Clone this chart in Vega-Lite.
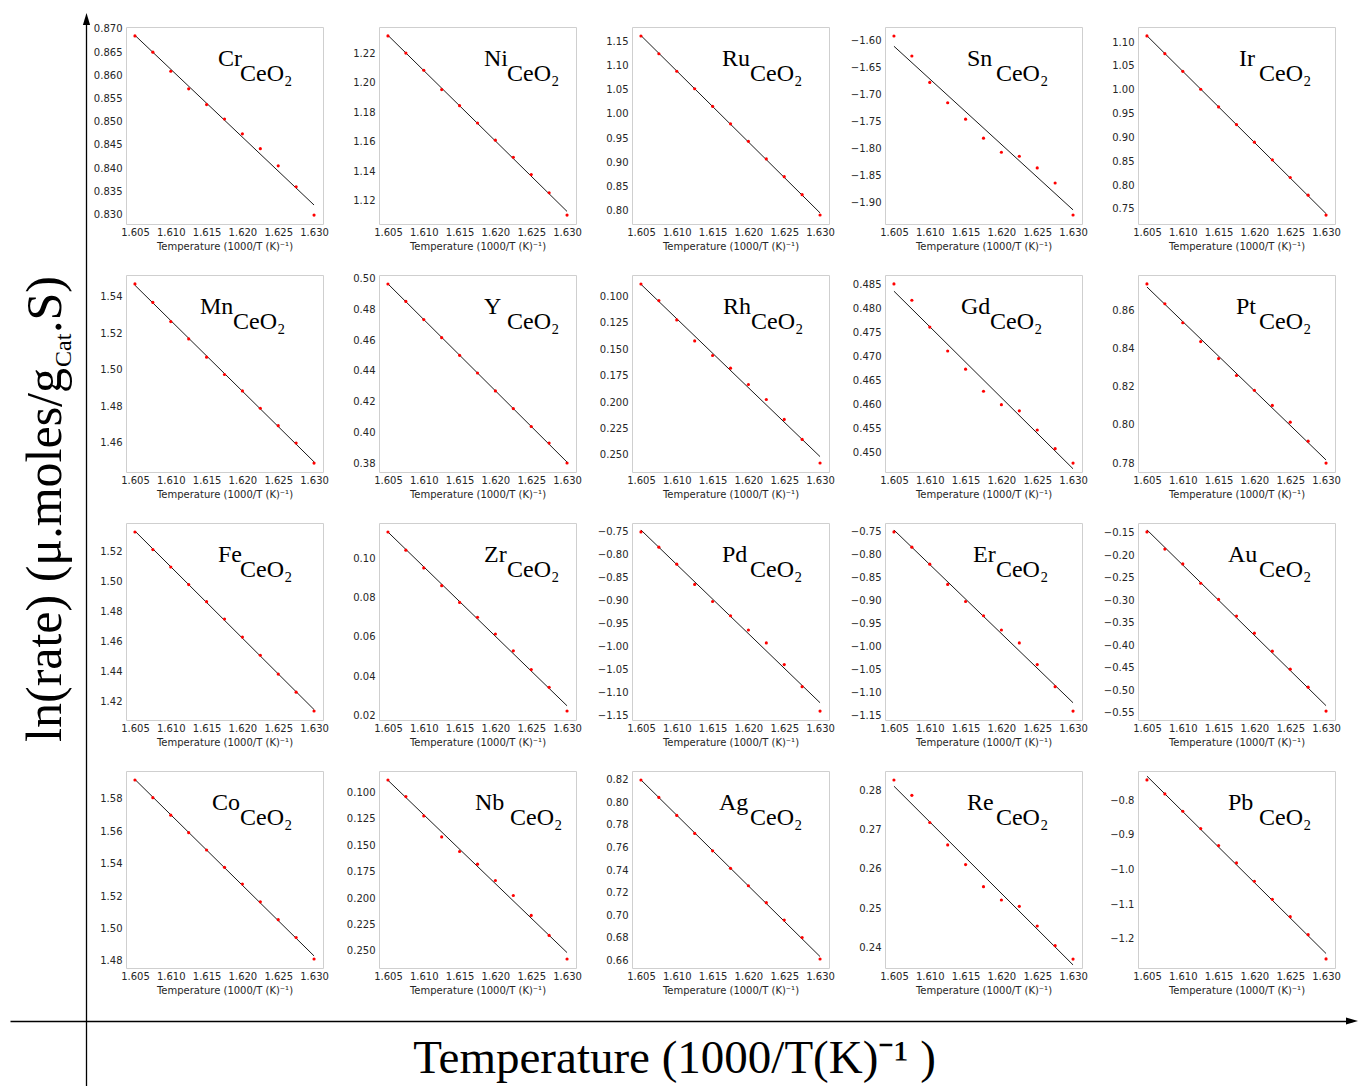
{
"$schema":"https://vega.github.io/schema/vega-lite/v6.json",
"padding":{"left":20,"top":13,"right":0,"bottom":0},
"background":"white",
"config":{
 "view":{"stroke":"#cfcfcf","strokeWidth":1},
 "axis":{"domain":false,"ticks":false,"tickSize":0,"grid":false,"labelFont":"DejaVu Sans","labelFontSize":10,"labelColor":"#262626","labelPadding":3,"labelFlush":false,"labelOverlap":false,"titleFont":"DejaVu Sans","titleFontSize":10,"titleFontWeight":"normal","titleColor":"#262626","titlePadding":4},
 "axisY":{"labelPadding":4},
 "style":{
  "lbl":{"align":"left","baseline":"alphabetic","font":"Liberation Serif","fontSize":24,"fill":"black"},
  "big":{"font":"Liberation Serif","fill":"black","angle":270,"baseline":"alphabetic"}
 }
},
"datasets":{"pts":[
{"metal":"Cr","x":1.605,"y":0.8685},{"metal":"Cr","x":1.6075,"y":0.8650},{"metal":"Cr","x":1.61,"y":0.8609},{"metal":"Cr","x":1.6125,"y":0.8571},{"metal":"Cr","x":1.615,"y":0.8537},{"metal":"Cr","x":1.6175,"y":0.8506},{"metal":"Cr","x":1.62,"y":0.8474},{"metal":"Cr","x":1.6225,"y":0.8442},{"metal":"Cr","x":1.625,"y":0.8405},{"metal":"Cr","x":1.6275,"y":0.8360},{"metal":"Cr","x":1.63,"y":0.8299},
{"metal":"Ni","x":1.605,"y":1.2316},{"metal":"Ni","x":1.6075,"y":1.2200},{"metal":"Ni","x":1.61,"y":1.2084},{"metal":"Ni","x":1.6125,"y":1.1953},{"metal":"Ni","x":1.615,"y":1.1844},{"metal":"Ni","x":1.6175,"y":1.1727},{"metal":"Ni","x":1.62,"y":1.1611},{"metal":"Ni","x":1.6225,"y":1.1495},{"metal":"Ni","x":1.625,"y":1.1378},{"metal":"Ni","x":1.6275,"y":1.1255},{"metal":"Ni","x":1.63,"y":1.1104},
{"metal":"Ru","x":1.605,"y":1.1625},{"metal":"Ru","x":1.6075,"y":1.1255},{"metal":"Ru","x":1.61,"y":1.0890},{"metal":"Ru","x":1.6125,"y":1.0525},{"metal":"Ru","x":1.615,"y":1.0160},{"metal":"Ru","x":1.6175,"y":0.9795},{"metal":"Ru","x":1.62,"y":0.9430},{"metal":"Ru","x":1.6225,"y":0.9065},{"metal":"Ru","x":1.625,"y":0.8695},{"metal":"Ru","x":1.6275,"y":0.8320},{"metal":"Ru","x":1.63,"y":0.7896},
{"metal":"Sn","x":1.605,"y":-1.5907},{"metal":"Sn","x":1.6075,"y":-1.6280},{"metal":"Sn","x":1.61,"y":-1.6770},{"metal":"Sn","x":1.6125,"y":-1.7149},{"metal":"Sn","x":1.615,"y":-1.7453},{"metal":"Sn","x":1.6175,"y":-1.7807},{"metal":"Sn","x":1.62,"y":-1.8068},{"metal":"Sn","x":1.6225,"y":-1.8143},{"metal":"Sn","x":1.625,"y":-1.8360},{"metal":"Sn","x":1.6275,"y":-1.8640},{"metal":"Sn","x":1.63,"y":-1.9236},
{"metal":"Ir","x":1.605,"y":1.1127},{"metal":"Ir","x":1.6075,"y":1.0755},{"metal":"Ir","x":1.61,"y":1.0385},{"metal":"Ir","x":1.6125,"y":1.0010},{"metal":"Ir","x":1.615,"y":0.9640},{"metal":"Ir","x":1.6175,"y":0.9270},{"metal":"Ir","x":1.62,"y":0.8900},{"metal":"Ir","x":1.6225,"y":0.8530},{"metal":"Ir","x":1.625,"y":0.8160},{"metal":"Ir","x":1.6275,"y":0.7790},{"metal":"Ir","x":1.63,"y":0.7373},
{"metal":"Mn","x":1.605,"y":1.5471},{"metal":"Mn","x":1.6075,"y":1.5370},{"metal":"Mn","x":1.61,"y":1.5265},{"metal":"Mn","x":1.6125,"y":1.5170},{"metal":"Mn","x":1.615,"y":1.5070},{"metal":"Mn","x":1.6175,"y":1.4975},{"metal":"Mn","x":1.62,"y":1.4885},{"metal":"Mn","x":1.6225,"y":1.4790},{"metal":"Mn","x":1.625,"y":1.4695},{"metal":"Mn","x":1.6275,"y":1.4600},{"metal":"Mn","x":1.63,"y":1.4490},
{"metal":"Y","x":1.605,"y":0.4967},{"metal":"Y","x":1.6075,"y":0.4853},{"metal":"Y","x":1.61,"y":0.4735},{"metal":"Y","x":1.6125,"y":0.4617},{"metal":"Y","x":1.615,"y":0.4502},{"metal":"Y","x":1.6175,"y":0.4387},{"metal":"Y","x":1.62,"y":0.4270},{"metal":"Y","x":1.6225,"y":0.4155},{"metal":"Y","x":1.625,"y":0.4038},{"metal":"Y","x":1.6275,"y":0.3930},{"metal":"Y","x":1.63,"y":0.3800},
{"metal":"Rh","x":1.605,"y":0.0880},{"metal":"Rh","x":1.6075,"y":0.1038},{"metal":"Rh","x":1.61,"y":0.1221},{"metal":"Rh","x":1.6125,"y":0.1420},{"metal":"Rh","x":1.615,"y":0.1559},{"metal":"Rh","x":1.6175,"y":0.1679},{"metal":"Rh","x":1.62,"y":0.1834},{"metal":"Rh","x":1.6225,"y":0.1976},{"metal":"Rh","x":1.625,"y":0.2165},{"metal":"Rh","x":1.6275,"y":0.2355},{"metal":"Rh","x":1.63,"y":0.2579},
{"metal":"Gd","x":1.605,"y":0.4852},{"metal":"Gd","x":1.6075,"y":0.4818},{"metal":"Gd","x":1.61,"y":0.4762},{"metal":"Gd","x":1.6125,"y":0.4712},{"metal":"Gd","x":1.615,"y":0.4674},{"metal":"Gd","x":1.6175,"y":0.4628},{"metal":"Gd","x":1.62,"y":0.4600},{"metal":"Gd","x":1.6225,"y":0.4587},{"metal":"Gd","x":1.625,"y":0.4547},{"metal":"Gd","x":1.6275,"y":0.4508},{"metal":"Gd","x":1.63,"y":0.4478},
{"metal":"Pt","x":1.605,"y":0.8741},{"metal":"Pt","x":1.6075,"y":0.8637},{"metal":"Pt","x":1.61,"y":0.8537},{"metal":"Pt","x":1.6125,"y":0.8438},{"metal":"Pt","x":1.615,"y":0.8349},{"metal":"Pt","x":1.6175,"y":0.8260},{"metal":"Pt","x":1.62,"y":0.8182},{"metal":"Pt","x":1.6225,"y":0.8103},{"metal":"Pt","x":1.625,"y":0.8015},{"metal":"Pt","x":1.6275,"y":0.7915},{"metal":"Pt","x":1.63,"y":0.7800},
{"metal":"Fe","x":1.605,"y":1.5327},{"metal":"Fe","x":1.6075,"y":1.5210},{"metal":"Fe","x":1.61,"y":1.5095},{"metal":"Fe","x":1.6125,"y":1.4978},{"metal":"Fe","x":1.615,"y":1.4865},{"metal":"Fe","x":1.6175,"y":1.4750},{"metal":"Fe","x":1.62,"y":1.4630},{"metal":"Fe","x":1.6225,"y":1.4510},{"metal":"Fe","x":1.625,"y":1.4385},{"metal":"Fe","x":1.6275,"y":1.4265},{"metal":"Fe","x":1.63,"y":1.4140},
{"metal":"Zr","x":1.605,"y":0.1132},{"metal":"Zr","x":1.6075,"y":0.1040},{"metal":"Zr","x":1.61,"y":0.0950},{"metal":"Zr","x":1.6125,"y":0.0860},{"metal":"Zr","x":1.615,"y":0.0775},{"metal":"Zr","x":1.6175,"y":0.0700},{"metal":"Zr","x":1.62,"y":0.0615},{"metal":"Zr","x":1.6225,"y":0.0530},{"metal":"Zr","x":1.625,"y":0.0435},{"metal":"Zr","x":1.6275,"y":0.0345},{"metal":"Zr","x":1.63,"y":0.0225},
{"metal":"Pd","x":1.605,"y":-0.752},{"metal":"Pd","x":1.6075,"y":-0.785},{"metal":"Pd","x":1.61,"y":-0.822},{"metal":"Pd","x":1.6125,"y":-0.866},{"metal":"Pd","x":1.615,"y":-0.903},{"metal":"Pd","x":1.6175,"y":-0.934},{"metal":"Pd","x":1.62,"y":-0.965},{"metal":"Pd","x":1.6225,"y":-0.993},{"metal":"Pd","x":1.625,"y":-1.040},{"metal":"Pd","x":1.6275,"y":-1.088},{"metal":"Pd","x":1.63,"y":-1.141},
{"metal":"Er","x":1.605,"y":-0.752},{"metal":"Er","x":1.6075,"y":-0.785},{"metal":"Er","x":1.61,"y":-0.822},{"metal":"Er","x":1.6125,"y":-0.866},{"metal":"Er","x":1.615,"y":-0.903},{"metal":"Er","x":1.6175,"y":-0.934},{"metal":"Er","x":1.62,"y":-0.965},{"metal":"Er","x":1.6225,"y":-0.993},{"metal":"Er","x":1.625,"y":-1.040},{"metal":"Er","x":1.6275,"y":-1.088},{"metal":"Er","x":1.63,"y":-1.141},
{"metal":"Au","x":1.605,"y":-0.148},{"metal":"Au","x":1.6075,"y":-0.186},{"metal":"Au","x":1.61,"y":-0.219},{"metal":"Au","x":1.6125,"y":-0.262},{"metal":"Au","x":1.615,"y":-0.298},{"metal":"Au","x":1.6175,"y":-0.335},{"metal":"Au","x":1.62,"y":-0.373},{"metal":"Au","x":1.6225,"y":-0.413},{"metal":"Au","x":1.625,"y":-0.453},{"metal":"Au","x":1.6275,"y":-0.493},{"metal":"Au","x":1.63,"y":-0.546},
{"metal":"Co","x":1.605,"y":1.5917},{"metal":"Co","x":1.6075,"y":1.5808},{"metal":"Co","x":1.61,"y":1.5700},{"metal":"Co","x":1.6125,"y":1.5592},{"metal":"Co","x":1.615,"y":1.5485},{"metal":"Co","x":1.6175,"y":1.5378},{"metal":"Co","x":1.62,"y":1.5275},{"metal":"Co","x":1.6225,"y":1.5165},{"metal":"Co","x":1.625,"y":1.5055},{"metal":"Co","x":1.6275,"y":1.4945},{"metal":"Co","x":1.63,"y":1.4812},
{"metal":"Nb","x":1.605,"y":0.0880},{"metal":"Nb","x":1.6075,"y":0.1038},{"metal":"Nb","x":1.61,"y":0.1221},{"metal":"Nb","x":1.6125,"y":0.1420},{"metal":"Nb","x":1.615,"y":0.1559},{"metal":"Nb","x":1.6175,"y":0.1679},{"metal":"Nb","x":1.62,"y":0.1834},{"metal":"Nb","x":1.6225,"y":0.1976},{"metal":"Nb","x":1.625,"y":0.2165},{"metal":"Nb","x":1.6275,"y":0.2355},{"metal":"Nb","x":1.63,"y":0.2579},
{"metal":"Ag","x":1.605,"y":0.8200},{"metal":"Ag","x":1.6075,"y":0.8045},{"metal":"Ag","x":1.61,"y":0.7885},{"metal":"Ag","x":1.6125,"y":0.7725},{"metal":"Ag","x":1.615,"y":0.7570},{"metal":"Ag","x":1.6175,"y":0.7415},{"metal":"Ag","x":1.62,"y":0.7260},{"metal":"Ag","x":1.6225,"y":0.7110},{"metal":"Ag","x":1.625,"y":0.6955},{"metal":"Ag","x":1.6275,"y":0.6800},{"metal":"Ag","x":1.63,"y":0.6609},
{"metal":"Re","x":1.605,"y":0.2826},{"metal":"Re","x":1.6075,"y":0.2787},{"metal":"Re","x":1.61,"y":0.2718},{"metal":"Re","x":1.6125,"y":0.2661},{"metal":"Re","x":1.615,"y":0.2611},{"metal":"Re","x":1.6175,"y":0.2555},{"metal":"Re","x":1.62,"y":0.2521},{"metal":"Re","x":1.6225,"y":0.2505},{"metal":"Re","x":1.625,"y":0.2455},{"metal":"Re","x":1.6275,"y":0.2405},{"metal":"Re","x":1.63,"y":0.2371},
{"metal":"Pb","x":1.605,"y":-0.7416},{"metal":"Pb","x":1.6075,"y":-0.782},{"metal":"Pb","x":1.61,"y":-0.832},{"metal":"Pb","x":1.6125,"y":-0.882},{"metal":"Pb","x":1.615,"y":-0.931},{"metal":"Pb","x":1.6175,"y":-0.981},{"metal":"Pb","x":1.62,"y":-1.034},{"metal":"Pb","x":1.6225,"y":-1.086},{"metal":"Pb","x":1.625,"y":-1.136},{"metal":"Pb","x":1.6275,"y":-1.188},{"metal":"Pb","x":1.63,"y":-1.258}
]},
"data":{"name":"pts"},
"spacing":39,
"bounds":"flush",
"hconcat":[
{
 "width":1,"height":994,
 "data":{"values":[{"k":0}]},
 "view":{"stroke":null},
 "layer":[
  {"mark":{"type":"point","shape":"M-1,-0.6L-1,0.6L1,0Z","filled":true,"color":"black","size":144,"opacity":1},
   "encoding":{
    "x":{"datum":1,"type":"quantitative","scale":{"domain":[0,1],"range":[-76,1266],"nice":false,"zero":false},
     "axis":{"orient":"bottom","labels":false,"ticks":false,"domain":true,"domainColor":"black","domainWidth":1.3,"grid":false,"title":"Temperature (1000/T(K)⁻¹ )","titleFont":"Liberation Serif","titleFontSize":47,"titleFontWeight":"normal","titleColor":"black","titlePadding":14,"titleX":588}},
    "y":{"datum":0.06092,"type":"quantitative","scale":{"domain":[0,1],"range":[1059,-8],"nice":false,"zero":false},
     "axis":{"orient":"left","labels":false,"ticks":false,"domain":true,"domainColor":"black","domainWidth":1.3,"grid":false,"title":null}}}},
  {"mark":{"type":"point","shape":"M-0.6,1L0.6,1L0,-1Z","filled":true,"color":"black","size":144,"opacity":1},
   "encoding":{"y":{"datum":1,"type":"quantitative"}}},
  {"mark":{"type":"text","style":"big","text":"ln(rate) (μ.moles/g","align":"right","fontSize":50,"dy":-26},
   "encoding":{"y":{"datum":0.67291,"type":"quantitative"}}},
  {"mark":{"type":"text","style":"big","text":"Cat","align":"left","fontSize":24,"dx":1,"dy":-16},
   "encoding":{"y":{"datum":0.67291,"type":"quantitative"}}},
  {"mark":{"type":"text","style":"big","text":".S)","align":"left","fontSize":50,"dx":35,"dy":-26},
   "encoding":{"y":{"datum":0.67291,"type":"quantitative"}}}
 ]
},
{
 "columns":5,
 "spacing":{"row":51,"column":56},
 "bounds":"flush",
 "concat":[
  {"width":197,"height":197,"transform":[{"filter":{"field":"metal","equal":"Cr"}}],
   "encoding":{"x":{"field":"x","type":"quantitative","scale":{"domain":[1.60375,1.63125],"nice":false,"zero":false},"axis":{"values":[1.605,1.61,1.615,1.62,1.625,1.63],"format":".3f","title":"Temperature (1000/T (K)⁻¹)"}},
    "y":{"field":"y","type":"quantitative","scale":{"domain":[0.82797,0.87043],"nice":false,"zero":false},"axis":{"values":[0.83,0.835,0.84,0.845,0.85,0.855,0.86,0.865,0.87],"format":".3f","title":null}}},
   "layer":[
    {"transform":[{"regression":"y","on":"x"}],"mark":{"type":"line","color":"#1a1a1a","strokeWidth":1}},
    {"mark":{"type":"circle","color":"#ff0000","size":10,"opacity":1}},
    {"transform":[{"filter":"datum.x == 1.605"}],"mark":{"type":"text","style":"lbl"},"encoding":{"text":{"field":"metal"},"x":{"datum":1.61659},"y":{"datum":0.86202}}},
    {"transform":[{"filter":"datum.x == 1.605"}],"mark":{"type":"text","style":"lbl","text":"CeO₂"},"encoding":{"x":{"datum":1.61966},"y":{"datum":0.85879}}}
   ]},
  {"width":197,"height":197,"transform":[{"filter":{"field":"metal","equal":"Ni"}}],
   "encoding":{"x":{"field":"x","type":"quantitative","scale":{"domain":[1.60375,1.63125],"nice":false,"zero":false},"axis":{"values":[1.605,1.61,1.615,1.62,1.625,1.63],"format":".3f","title":"Temperature (1000/T (K)⁻¹)"}},
    "y":{"field":"y","type":"quantitative","scale":{"domain":[1.10434,1.23766],"nice":false,"zero":false},"axis":{"values":[1.12,1.14,1.16,1.18,1.2,1.22],"format":".2f","title":null}}},
   "layer":[
    {"transform":[{"regression":"y","on":"x"}],"mark":{"type":"line","color":"#1a1a1a","strokeWidth":1}},
    {"mark":{"type":"circle","color":"#ff0000","size":10,"opacity":1}},
    {"transform":[{"filter":"datum.x == 1.605"}],"mark":{"type":"text","style":"lbl"},"encoding":{"text":{"field":"metal"},"x":{"datum":1.61841},"y":{"datum":1.21127}}},
    {"transform":[{"filter":"datum.x == 1.605"}],"mark":{"type":"text","style":"lbl","text":"CeO₂"},"encoding":{"x":{"datum":1.62162},"y":{"datum":1.20112}}}
   ]},
  {"width":197,"height":197,"transform":[{"filter":{"field":"metal","equal":"Ru"}}],
   "encoding":{"x":{"field":"x","type":"quantitative","scale":{"domain":[1.60375,1.63125],"nice":false,"zero":false},"axis":{"values":[1.605,1.61,1.615,1.62,1.625,1.63],"format":".3f","title":"Temperature (1000/T (K)⁻¹)"}},
    "y":{"field":"y","type":"quantitative","scale":{"domain":[0.77095,1.18115],"nice":false,"zero":false},"axis":{"values":[0.8,0.85,0.9,0.95,1,1.05,1.1,1.15],"format":".2f","title":null}}},
   "layer":[
    {"transform":[{"regression":"y","on":"x"}],"mark":{"type":"line","color":"#1a1a1a","strokeWidth":1}},
    {"mark":{"type":"circle","color":"#ff0000","size":10,"opacity":1}},
    {"transform":[{"filter":"datum.x == 1.605"}],"mark":{"type":"text","style":"lbl"},"encoding":{"text":{"field":"metal"},"x":{"datum":1.61631},"y":{"datum":1.09994}}},
    {"transform":[{"filter":"datum.x == 1.605"}],"mark":{"type":"text","style":"lbl","text":"CeO₂"},"encoding":{"x":{"datum":1.62022},"y":{"datum":1.06871}}}
   ]},
  {"width":197,"height":197,"transform":[{"filter":{"field":"metal","equal":"Sn"}}],
   "encoding":{"x":{"field":"x","type":"quantitative","scale":{"domain":[1.60375,1.63125],"nice":false,"zero":false},"axis":{"values":[1.605,1.61,1.615,1.62,1.625,1.63],"format":".3f","title":"Temperature (1000/T (K)⁻¹)"}},
    "y":{"field":"y","type":"quantitative","scale":{"domain":[-1.94025,-1.57405],"nice":false,"zero":false},"axis":{"values":[-1.9,-1.85,-1.8,-1.75,-1.7,-1.65,-1.6],"format":".2f","title":null}}},
   "layer":[
    {"transform":[{"regression":"y","on":"x"}],"mark":{"type":"line","color":"#1a1a1a","strokeWidth":1}},
    {"mark":{"type":"circle","color":"#ff0000","size":10,"opacity":1}},
    {"transform":[{"filter":"datum.x == 1.605"}],"mark":{"type":"text","style":"lbl"},"encoding":{"text":{"field":"metal"},"x":{"datum":1.6152},"y":{"datum":-1.64655}}},
    {"transform":[{"filter":"datum.x == 1.605"}],"mark":{"type":"text","style":"lbl","text":"CeO₂"},"encoding":{"x":{"datum":1.61924},"y":{"datum":-1.67443}}}
   ]},
  {"width":197,"height":197,"transform":[{"filter":{"field":"metal","equal":"Ir"}}],
   "encoding":{"x":{"field":"x","type":"quantitative","scale":{"domain":[1.60375,1.63125],"nice":false,"zero":false},"axis":{"values":[1.605,1.61,1.615,1.62,1.625,1.63],"format":".3f","title":"Temperature (1000/T (K)⁻¹)"}},
    "y":{"field":"y","type":"quantitative","scale":{"domain":[0.71853,1.13147],"nice":false,"zero":false},"axis":{"values":[0.75,0.8,0.85,0.9,0.95,1,1.05,1.1],"format":".2f","title":null}}},
   "layer":[
    {"transform":[{"regression":"y","on":"x"}],"mark":{"type":"line","color":"#1a1a1a","strokeWidth":1}},
    {"mark":{"type":"circle","color":"#ff0000","size":10,"opacity":1}},
    {"transform":[{"filter":"datum.x == 1.605"}],"mark":{"type":"text","style":"lbl"},"encoding":{"text":{"field":"metal"},"x":{"datum":1.61785},"y":{"datum":1.04972}}},
    {"transform":[{"filter":"datum.x == 1.605"}],"mark":{"type":"text","style":"lbl","text":"CeO₂"},"encoding":{"x":{"datum":1.62064},"y":{"datum":1.01828}}}
   ]},
  {"width":197,"height":197,"transform":[{"filter":{"field":"metal","equal":"Mn"}}],
   "encoding":{"x":{"field":"x","type":"quantitative","scale":{"domain":[1.60375,1.63125],"nice":false,"zero":false},"axis":{"values":[1.605,1.61,1.615,1.62,1.625,1.63],"format":".3f","title":"Temperature (1000/T (K)⁻¹)"}},
    "y":{"field":"y","type":"quantitative","scale":{"domain":[1.4441,1.552],"nice":false,"zero":false},"axis":{"values":[1.46,1.48,1.5,1.52,1.54],"format":".2f","title":null}}},
   "layer":[
    {"transform":[{"regression":"y","on":"x"}],"mark":{"type":"line","color":"#1a1a1a","strokeWidth":1}},
    {"mark":{"type":"circle","color":"#ff0000","size":10,"opacity":1}},
    {"transform":[{"filter":"datum.x == 1.605"}],"mark":{"type":"text","style":"lbl"},"encoding":{"text":{"field":"metal"},"x":{"datum":1.61408},"y":{"datum":1.53064}}},
    {"transform":[{"filter":"datum.x == 1.605"}],"mark":{"type":"text","style":"lbl","text":"CeO₂"},"encoding":{"x":{"datum":1.61869},"y":{"datum":1.52242}}}
   ]},
  {"width":197,"height":197,"transform":[{"filter":{"field":"metal","equal":"Y"}}],
   "encoding":{"x":{"field":"x","type":"quantitative","scale":{"domain":[1.60375,1.63125],"nice":false,"zero":false},"axis":{"values":[1.605,1.61,1.615,1.62,1.625,1.63],"format":".3f","title":"Temperature (1000/T (K)⁻¹)"}},
    "y":{"field":"y","type":"quantitative","scale":{"domain":[0.37416,0.50254],"nice":false,"zero":false},"axis":{"values":[0.38,0.4,0.42,0.44,0.46,0.48,0.5],"format":".2f","title":null}}},
   "layer":[
    {"transform":[{"regression":"y","on":"x"}],"mark":{"type":"line","color":"#1a1a1a","strokeWidth":1}},
    {"mark":{"type":"circle","color":"#ff0000","size":10,"opacity":1}},
    {"transform":[{"filter":"datum.x == 1.605"}],"mark":{"type":"text","style":"lbl"},"encoding":{"text":{"field":"metal"},"x":{"datum":1.61841},"y":{"datum":0.47712}}},
    {"transform":[{"filter":"datum.x == 1.605"}],"mark":{"type":"text","style":"lbl","text":"CeO₂"},"encoding":{"x":{"datum":1.62162},"y":{"datum":0.46735}}}
   ]},
  {"width":197,"height":197,"transform":[{"filter":{"field":"metal","equal":"Rh"}}],
   "encoding":{"x":{"field":"x","type":"quantitative","scale":{"domain":[1.60375,1.63125],"nice":false,"zero":false},"axis":{"values":[1.605,1.61,1.615,1.62,1.625,1.63],"format":".3f","title":"Temperature (1000/T (K)⁻¹)"}},
    "y":{"field":"y","type":"quantitative","scale":{"domain":[0.0795,0.2664],"nice":false,"zero":false,"reverse":true},"axis":{"values":[0.1,0.125,0.15,0.175,0.2,0.225,0.25],"format":".3f","title":null}}},
   "layer":[
    {"transform":[{"regression":"y","on":"x"}],"mark":{"type":"line","color":"#1a1a1a","strokeWidth":1}},
    {"mark":{"type":"circle","color":"#ff0000","size":10,"opacity":1}},
    {"transform":[{"filter":"datum.x == 1.605"}],"mark":{"type":"text","style":"lbl"},"encoding":{"text":{"field":"metal"},"x":{"datum":1.61645},"y":{"datum":0.1165}}},
    {"transform":[{"filter":"datum.x == 1.605"}],"mark":{"type":"text","style":"lbl","text":"CeO₂"},"encoding":{"x":{"datum":1.62036},"y":{"datum":0.13073}}}
   ]},
  {"width":197,"height":197,"transform":[{"filter":{"field":"metal","equal":"Gd"}}],
   "encoding":{"x":{"field":"x","type":"quantitative","scale":{"domain":[1.60375,1.63125],"nice":false,"zero":false},"axis":{"values":[1.605,1.61,1.615,1.62,1.625,1.63],"format":".3f","title":"Temperature (1000/T (K)⁻¹)"}},
    "y":{"field":"y","type":"quantitative","scale":{"domain":[0.44593,0.48707],"nice":false,"zero":false},"axis":{"values":[0.445,0.45,0.455,0.46,0.465,0.47,0.475,0.48,0.485],"format":".3f","title":null}}},
   "layer":[
    {"transform":[{"regression":"y","on":"x"}],"mark":{"type":"line","color":"#1a1a1a","strokeWidth":1}},
    {"mark":{"type":"circle","color":"#ff0000","size":10,"opacity":1}},
    {"transform":[{"filter":"datum.x == 1.605"}],"mark":{"type":"text","style":"lbl"},"encoding":{"text":{"field":"metal"},"x":{"datum":1.61436},"y":{"datum":0.47893}}},
    {"transform":[{"filter":"datum.x == 1.605"}],"mark":{"type":"text","style":"lbl","text":"CeO₂"},"encoding":{"x":{"datum":1.61841},"y":{"datum":0.47579}}}
   ]},
  {"width":197,"height":197,"transform":[{"filter":{"field":"metal","equal":"Pt"}}],
   "encoding":{"x":{"field":"x","type":"quantitative","scale":{"domain":[1.60375,1.63125],"nice":false,"zero":false},"axis":{"values":[1.605,1.61,1.615,1.62,1.625,1.63],"format":".3f","title":"Temperature (1000/T (K)⁻¹)"}},
    "y":{"field":"y","type":"quantitative","scale":{"domain":[0.7753,0.8788],"nice":false,"zero":false},"axis":{"values":[0.78,0.8,0.82,0.84,0.86],"format":".2f","title":null}}},
   "layer":[
    {"transform":[{"regression":"y","on":"x"}],"mark":{"type":"line","color":"#1a1a1a","strokeWidth":1}},
    {"mark":{"type":"circle","color":"#ff0000","size":10,"opacity":1}},
    {"transform":[{"filter":"datum.x == 1.605"}],"mark":{"type":"text","style":"lbl"},"encoding":{"text":{"field":"metal"},"x":{"datum":1.61743},"y":{"datum":0.85831}}},
    {"transform":[{"filter":"datum.x == 1.605"}],"mark":{"type":"text","style":"lbl","text":"CeO₂"},"encoding":{"x":{"datum":1.62064},"y":{"datum":0.85043}}}
   ]},
  {"width":197,"height":197,"transform":[{"filter":{"field":"metal","equal":"Fe"}}],
   "encoding":{"x":{"field":"x","type":"quantitative","scale":{"domain":[1.60375,1.63125],"nice":false,"zero":false},"axis":{"values":[1.605,1.61,1.615,1.62,1.625,1.63],"format":".3f","title":"Temperature (1000/T (K)⁻¹)"}},
    "y":{"field":"y","type":"quantitative","scale":{"domain":[1.40806,1.53864],"nice":false,"zero":false},"axis":{"values":[1.42,1.44,1.46,1.48,1.5,1.52],"format":".2f","title":null}}},
   "layer":[
    {"transform":[{"regression":"y","on":"x"}],"mark":{"type":"line","color":"#1a1a1a","strokeWidth":1}},
    {"mark":{"type":"circle","color":"#ff0000","size":10,"opacity":1}},
    {"transform":[{"filter":"datum.x == 1.605"}],"mark":{"type":"text","style":"lbl"},"encoding":{"text":{"field":"metal"},"x":{"datum":1.61659},"y":{"datum":1.51279}}},
    {"transform":[{"filter":"datum.x == 1.605"}],"mark":{"type":"text","style":"lbl","text":"CeO₂"},"encoding":{"x":{"datum":1.61966},"y":{"datum":1.50285}}}
   ]},
  {"width":197,"height":197,"transform":[{"filter":{"field":"metal","equal":"Zr"}}],
   "encoding":{"x":{"field":"x","type":"quantitative","scale":{"domain":[1.60375,1.63125],"nice":false,"zero":false},"axis":{"values":[1.605,1.61,1.615,1.62,1.625,1.63],"format":".3f","title":"Temperature (1000/T (K)⁻¹)"}},
    "y":{"field":"y","type":"quantitative","scale":{"domain":[0.01796,0.11774],"nice":false,"zero":false},"axis":{"values":[0.02,0.04,0.06,0.08,0.1],"format":".2f","title":null}}},
   "layer":[
    {"transform":[{"regression":"y","on":"x"}],"mark":{"type":"line","color":"#1a1a1a","strokeWidth":1}},
    {"mark":{"type":"circle","color":"#ff0000","size":10,"opacity":1}},
    {"transform":[{"filter":"datum.x == 1.605"}],"mark":{"type":"text","style":"lbl"},"encoding":{"text":{"field":"metal"},"x":{"datum":1.61841},"y":{"datum":0.09799}}},
    {"transform":[{"filter":"datum.x == 1.605"}],"mark":{"type":"text","style":"lbl","text":"CeO₂"},"encoding":{"x":{"datum":1.62162},"y":{"datum":0.09039}}}
   ]},
  {"width":197,"height":197,"transform":[{"filter":{"field":"metal","equal":"Pd"}}],
   "encoding":{"x":{"field":"x","type":"quantitative","scale":{"domain":[1.60375,1.63125],"nice":false,"zero":false},"axis":{"values":[1.605,1.61,1.615,1.62,1.625,1.63],"format":".3f","title":"Temperature (1000/T (K)⁻¹)"}},
    "y":{"field":"y","type":"quantitative","scale":{"domain":[-1.16045,-0.73255],"nice":false,"zero":false},"axis":{"values":[-1.15,-1.1,-1.05,-1,-0.95,-0.9,-0.85,-0.8,-0.75],"format":".2f","title":null}}},
   "layer":[
    {"transform":[{"regression":"y","on":"x"}],"mark":{"type":"line","color":"#1a1a1a","strokeWidth":1}},
    {"mark":{"type":"circle","color":"#ff0000","size":10,"opacity":1}},
    {"transform":[{"filter":"datum.x == 1.605"}],"mark":{"type":"text","style":"lbl"},"encoding":{"text":{"field":"metal"},"x":{"datum":1.61631},"y":{"datum":-0.81726}}},
    {"transform":[{"filter":"datum.x == 1.605"}],"mark":{"type":"text","style":"lbl","text":"CeO₂"},"encoding":{"x":{"datum":1.62022},"y":{"datum":-0.84984}}}
   ]},
  {"width":197,"height":197,"transform":[{"filter":{"field":"metal","equal":"Er"}}],
   "encoding":{"x":{"field":"x","type":"quantitative","scale":{"domain":[1.60375,1.63125],"nice":false,"zero":false},"axis":{"values":[1.605,1.61,1.615,1.62,1.625,1.63],"format":".3f","title":"Temperature (1000/T (K)⁻¹)"}},
    "y":{"field":"y","type":"quantitative","scale":{"domain":[-1.16045,-0.73255],"nice":false,"zero":false},"axis":{"values":[-1.15,-1.1,-1.05,-1,-0.95,-0.9,-0.85,-0.8,-0.75],"format":".2f","title":null}}},
   "layer":[
    {"transform":[{"regression":"y","on":"x"}],"mark":{"type":"line","color":"#1a1a1a","strokeWidth":1}},
    {"mark":{"type":"circle","color":"#ff0000","size":10,"opacity":1}},
    {"transform":[{"filter":"datum.x == 1.605"}],"mark":{"type":"text","style":"lbl"},"encoding":{"text":{"field":"metal"},"x":{"datum":1.61603},"y":{"datum":-0.81726}}},
    {"transform":[{"filter":"datum.x == 1.605"}],"mark":{"type":"text","style":"lbl","text":"CeO₂"},"encoding":{"x":{"datum":1.61924},"y":{"datum":-0.84984}}}
   ]},
  {"width":197,"height":197,"transform":[{"filter":{"field":"metal","equal":"Au"}}],
   "encoding":{"x":{"field":"x","type":"quantitative","scale":{"domain":[1.60375,1.63125],"nice":false,"zero":false},"axis":{"values":[1.605,1.61,1.615,1.62,1.625,1.63],"format":".3f","title":"Temperature (1000/T (K)⁻¹)"}},
    "y":{"field":"y","type":"quantitative","scale":{"domain":[-0.5659,-0.1281],"nice":false,"zero":false},"axis":{"values":[-0.55,-0.5,-0.45,-0.4,-0.35,-0.3,-0.25,-0.2,-0.15],"format":".2f","title":null}}},
   "layer":[
    {"transform":[{"regression":"y","on":"x"}],"mark":{"type":"line","color":"#1a1a1a","strokeWidth":1}},
    {"mark":{"type":"circle","color":"#ff0000","size":10,"opacity":1}},
    {"transform":[{"filter":"datum.x == 1.605"}],"mark":{"type":"text","style":"lbl"},"encoding":{"text":{"field":"metal"},"x":{"datum":1.61631},"y":{"datum":-0.21477}}},
    {"transform":[{"filter":"datum.x == 1.605"}],"mark":{"type":"text","style":"lbl","text":"CeO₂"},"encoding":{"x":{"datum":1.62064},"y":{"datum":-0.24811}}}
   ]},
  {"width":197,"height":197,"transform":[{"filter":{"field":"metal","equal":"Co"}}],
   "encoding":{"x":{"field":"x","type":"quantitative","scale":{"domain":[1.60375,1.63125],"nice":false,"zero":false},"axis":{"values":[1.605,1.61,1.615,1.62,1.625,1.63],"format":".3f","title":"Temperature (1000/T (K)⁻¹)"}},
    "y":{"field":"y","type":"quantitative","scale":{"domain":[1.47567,1.59723],"nice":false,"zero":false},"axis":{"values":[1.48,1.5,1.52,1.54,1.56,1.58],"format":".2f","title":null}}},
   "layer":[
    {"transform":[{"regression":"y","on":"x"}],"mark":{"type":"line","color":"#1a1a1a","strokeWidth":1}},
    {"mark":{"type":"circle","color":"#ff0000","size":10,"opacity":1}},
    {"transform":[{"filter":"datum.x == 1.605"}],"mark":{"type":"text","style":"lbl"},"encoding":{"text":{"field":"metal"},"x":{"datum":1.61576},"y":{"datum":1.57317}}},
    {"transform":[{"filter":"datum.x == 1.605"}],"mark":{"type":"text","style":"lbl","text":"CeO₂"},"encoding":{"x":{"datum":1.61966},"y":{"datum":1.56391}}}
   ]},
  {"width":197,"height":197,"transform":[{"filter":{"field":"metal","equal":"Nb"}}],
   "encoding":{"x":{"field":"x","type":"quantitative","scale":{"domain":[1.60375,1.63125],"nice":false,"zero":false},"axis":{"values":[1.605,1.61,1.615,1.62,1.625,1.63],"format":".3f","title":"Temperature (1000/T (K)⁻¹)"}},
    "y":{"field":"y","type":"quantitative","scale":{"domain":[0.0795,0.2664],"nice":false,"zero":false,"reverse":true},"axis":{"values":[0.1,0.125,0.15,0.175,0.2,0.225,0.25],"format":".3f","title":null}}},
   "layer":[
    {"transform":[{"regression":"y","on":"x"}],"mark":{"type":"line","color":"#1a1a1a","strokeWidth":1}},
    {"mark":{"type":"circle","color":"#ff0000","size":10,"opacity":1}},
    {"transform":[{"filter":"datum.x == 1.605"}],"mark":{"type":"text","style":"lbl"},"encoding":{"text":{"field":"metal"},"x":{"datum":1.61715},"y":{"datum":0.1165}}},
    {"transform":[{"filter":"datum.x == 1.605"}],"mark":{"type":"text","style":"lbl","text":"CeO₂"},"encoding":{"x":{"datum":1.62204},"y":{"datum":0.13073}}}
   ]},
  {"width":197,"height":197,"transform":[{"filter":{"field":"metal","equal":"Ag"}}],
   "encoding":{"x":{"field":"x","type":"quantitative","scale":{"domain":[1.60375,1.63125],"nice":false,"zero":false},"axis":{"values":[1.605,1.61,1.615,1.62,1.625,1.63],"format":".3f","title":"Temperature (1000/T (K)⁻¹)"}},
    "y":{"field":"y","type":"quantitative","scale":{"domain":[0.65294,0.82796],"nice":false,"zero":false},"axis":{"values":[0.66,0.68,0.7,0.72,0.74,0.76,0.78,0.8,0.82],"format":".2f","title":null}}},
   "layer":[
    {"transform":[{"regression":"y","on":"x"}],"mark":{"type":"line","color":"#1a1a1a","strokeWidth":1}},
    {"mark":{"type":"circle","color":"#ff0000","size":10,"opacity":1}},
    {"transform":[{"filter":"datum.x == 1.605"}],"mark":{"type":"text","style":"lbl"},"encoding":{"text":{"field":"metal"},"x":{"datum":1.61589},"y":{"datum":0.79331}}},
    {"transform":[{"filter":"datum.x == 1.605"}],"mark":{"type":"text","style":"lbl","text":"CeO₂"},"encoding":{"x":{"datum":1.62022},"y":{"datum":0.77999}}}
   ]},
  {"width":197,"height":197,"transform":[{"filter":{"field":"metal","equal":"Re"}}],
   "encoding":{"x":{"field":"x","type":"quantitative","scale":{"domain":[1.60375,1.63125],"nice":false,"zero":false},"axis":{"values":[1.605,1.61,1.615,1.62,1.625,1.63],"format":".3f","title":"Temperature (1000/T (K)⁻¹)"}},
    "y":{"field":"y","type":"quantitative","scale":{"domain":[0.23483,0.28488],"nice":false,"zero":false},"axis":{"values":[0.24,0.25,0.26,0.27,0.28],"format":".2f","title":null}}},
   "layer":[
    {"transform":[{"regression":"y","on":"x"}],"mark":{"type":"line","color":"#1a1a1a","strokeWidth":1}},
    {"mark":{"type":"circle","color":"#ff0000","size":10,"opacity":1}},
    {"transform":[{"filter":"datum.x == 1.605"}],"mark":{"type":"text","style":"lbl"},"encoding":{"text":{"field":"metal"},"x":{"datum":1.6152},"y":{"datum":0.27497}}},
    {"transform":[{"filter":"datum.x == 1.605"}],"mark":{"type":"text","style":"lbl","text":"CeO₂"},"encoding":{"x":{"datum":1.61924},"y":{"datum":0.27116}}}
   ]},
  {"width":197,"height":197,"transform":[{"filter":{"field":"metal","equal":"Pb"}}],
   "encoding":{"x":{"field":"x","type":"quantitative","scale":{"domain":[1.60375,1.63125],"nice":false,"zero":false},"axis":{"values":[1.605,1.61,1.615,1.62,1.625,1.63],"format":".3f","title":"Temperature (1000/T (K)⁻¹)"}},
    "y":{"field":"y","type":"quantitative","scale":{"domain":[-1.28422,-0.71578],"nice":false,"zero":false},"axis":{"values":[-1.2,-1.1,-1,-0.9,-0.8],"format":".1f","title":null}}},
   "layer":[
    {"transform":[{"regression":"y","on":"x"}],"mark":{"type":"line","color":"#1a1a1a","strokeWidth":1}},
    {"mark":{"type":"circle","color":"#ff0000","size":10,"opacity":1}},
    {"transform":[{"filter":"datum.x == 1.605"}],"mark":{"type":"text","style":"lbl"},"encoding":{"text":{"field":"metal"},"x":{"datum":1.61631},"y":{"datum":-0.82831}}},
    {"transform":[{"filter":"datum.x == 1.605"}],"mark":{"type":"text","style":"lbl","text":"CeO₂"},"encoding":{"x":{"datum":1.62064},"y":{"datum":-0.8716}}}
   ]}
 ]
}
]
}
